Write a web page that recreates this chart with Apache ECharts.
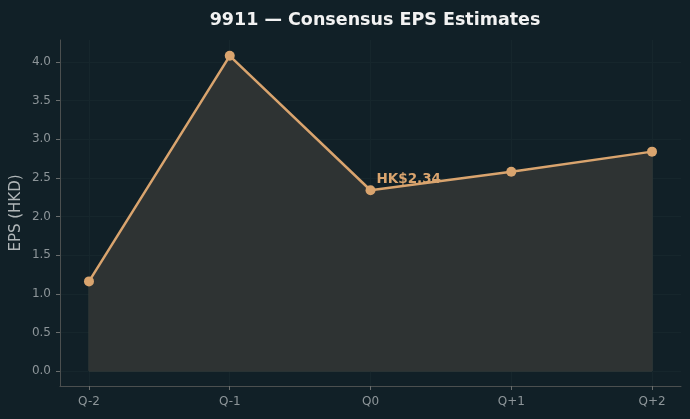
<!DOCTYPE html>
<html><head><meta charset="utf-8">
<script src="https://cdn.jsdelivr.net/npm/echarts@6/dist/echarts.min.js"></script>
<style>html,body{margin:0;padding:0;background:#112027;}#c{width:690px;height:419px;}</style>
</head><body><div id="c"></div>
<script>
const categories = ['Q-2', 'Q-1', 'Q0', 'Q+1', 'Q+2'];
const epsValues = [1.16, 4.08, 2.34, 2.58, 2.84];
const yTicks = [0, 0.5, 1, 1.5, 2, 2.5, 3, 3.5, 4];
const annotateIndex = 2;
const annotateText = 'HK$' + epsValues[annotateIndex].toFixed(2);

const lineColor = '#d9a46e';
const pts = epsValues.map((v, i) => [i, v]);
const last = epsValues.length - 1;

const chart = echarts.init(document.getElementById('c'), null, {renderer: 'canvas'});
chart.setOption({
  backgroundColor: '#112027',
  animation: false,
  title: {
    text: '9911 — Consensus EPS Estimates',
    left: 370, top: 6, textAlign: 'center',
    textStyle: {color: '#f2f2f2', fontSize: 17.5, fontWeight: 'bold', fontFamily: 'DejaVu Sans'}
  },
  grid: {left: 60, right: 9, top: 40, bottom: 33, containLabel: false},
  xAxis: {
    type: 'value', min: -0.206, max: 4.206, interval: 1,
    axisLine: {show: true, onZero: false, lineStyle: {color: '#4b4f4f', width: 1}},
    axisTick: {show: true, length: 4, lineStyle: {color: '#6a6e6e'}, customValues: [0,1,2,3,4]},
    axisLabel: {color: '#8d9599', fontSize: 12, fontFamily: 'DejaVu Sans', margin: 10,
      customValues: [0,1,2,3,4],
      formatter: v => categories[Math.round(v)] || ''},
    splitLine: {show: true, lineStyle: {color: '#16262c', width: 1}},
    showMinLabel: true, showMaxLabel: true
  },
  yAxis: {
    type: 'value', min: -0.194, max: 4.285,
    name: 'EPS (HKD)', nameLocation: 'middle', nameGap: 36, nameMoveOverlap: false,
    nameTextStyle: {color: '#b0b6b8', fontSize: 15, fontFamily: 'DejaVu Sans'},
    axisLine: {show: true, onZero: false, lineStyle: {color: '#4b4f4f', width: 1}},
    axisTick: {show: true, length: 4, lineStyle: {color: '#6a6e6e'}, customValues: yTicks},
    axisLabel: {color: '#8d9599', fontSize: 12, fontFamily: 'DejaVu Sans', margin: 9,
      customValues: yTicks, formatter: v => v.toFixed(1)},
    splitLine: {show: true, lineStyle: {color: '#16262c', width: 1}}
  },
  series: [
    {
      type: 'line', data: [[0, 0], [0, epsValues[0]]], symbol: 'none', silent: true,
      lineStyle: {color: '#3c403c', width: 1}, z: 1
    },
    {
      type: 'line', data: [[last, 0], [last, epsValues[last]]], symbol: 'none', silent: true,
      lineStyle: {color: '#3c403c', width: 1}, z: 1
    },
    {
      type: 'line', data: [[0, 0], [last, 0]], symbol: 'none', silent: true,
      lineStyle: {color: '#3c403c', width: 1}, z: 1
    },
    {
      type: 'line', data: pts, symbol: 'circle', symbolSize: 10,
      itemStyle: {color: lineColor},
      lineStyle: {color: lineColor, width: 2.5},
      areaStyle: {color: '#2e3333', opacity: 1, origin: 0},
      z: 3,
      markPoint: {
        symbol: 'circle', symbolSize: 0,
        data: [{coord: pts[annotateIndex], value: annotateText}],
        label: {show: true, formatter: annotateText, color: lineColor, fontSize: 13.5, fontWeight: 'bold',
          fontFamily: 'DejaVu Sans', position: 'right', offset: [1, -11]}
      }
    }
  ]
});
</script></body></html>
